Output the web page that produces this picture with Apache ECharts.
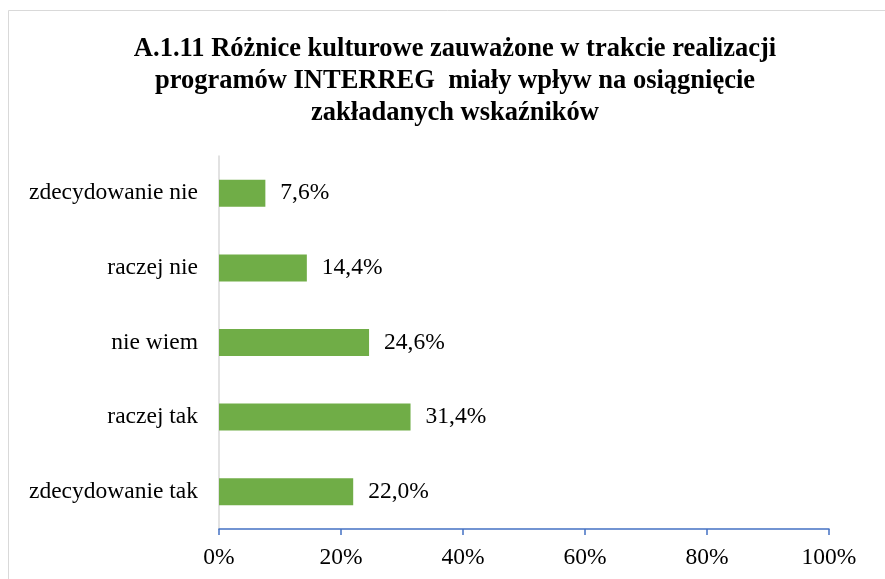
<!DOCTYPE html>
<html>
<head>
<meta charset="utf-8">
<script src="https://cdn.jsdelivr.net/npm/echarts@6/dist/echarts.min.js"></script>
<style>
	html, body { margin: 0; padding: 0; background: #fff; }
	#chart { width: 885px; height: 579px; }
</style>
</head>
<body>
<div id="chart"></div>
<script>
var titleText = "A.1.11 Różnice kulturowe zauważone w trakcie realizacji\nprogramów INTERREG  miały wpływ na osiągnięcie\nzakładanych wskaźników";
var categories = ["zdecydowanie tak", "raczej tak", "nie wiem", "raczej nie", "zdecydowanie nie"];
var values = [22.0, 31.4, 24.6, 14.4, 7.6];
var xTicks = [0, 20, 40, 60, 80, 100];

var serif = "'Liberation Serif', 'Times New Roman', serif";

var myChart = echarts.init(document.getElementById("chart"), null, { renderer: "canvas" });

var option = {
	backgroundColor: "#fff",
	animation: false,
	title: {
		text: titleText,
		left: 455,
		top: 33,
		padding: 0,
		textAlign: "center",
		textStyle: {
			fontFamily: serif,
			fontWeight: "bold",
			fontSize: 26.5,
			lineHeight: 32,
			color: "#000"
		}
	},
	graphic: [{
		type: "rect",
		shape: { x: 8.5, y: 10.5, width: 900, height: 600 },
		style: { fill: "none", stroke: "#d9d9d9", lineWidth: 1 },
		silent: true
	}],
	grid: {
		left: 219,
		right: 56,
		top: 156,
		bottom: 50,
		containLabel: false
	},
	xAxis: {
		type: "value",
		min: xTicks[0],
		max: xTicks[xTicks.length - 1],
		interval: 20,
		axisLine: { show: true, lineStyle: { color: "#4472c4", width: 1.5 } },
		axisTick: { show: true, length: 6, lineStyle: { color: "#4472c4", width: 1.5 } },
		splitLine: { show: false },
		axisLabel: {
			margin: 17,
			fontFamily: serif,
			fontSize: 23.5,
			color: "#000",
			formatter: function (v) { return v + "%"; }
		}
	},
	yAxis: {
		type: "category",
		data: categories,
		axisLine: { show: true, lineStyle: { color: "#d9d9d9", width: 1.5 } },
		axisTick: { show: false },
		axisLabel: {
			margin: 21,
			fontFamily: serif,
			fontSize: 23.5,
			color: "#000"
		}
	},
	series: [{
		type: "bar",
		data: values,
		barWidth: 27,
		itemStyle: { color: "#70ad47" },
		label: {
			show: true,
			position: "right",
			distance: 15,
			fontFamily: serif,
			fontSize: 23.5,
			color: "#000",
			formatter: function (p) { return p.value.toFixed(1).replace(".", ",") + "%"; }
		}
	}]
};

myChart.setOption(option);
</script>
</body>
</html>
